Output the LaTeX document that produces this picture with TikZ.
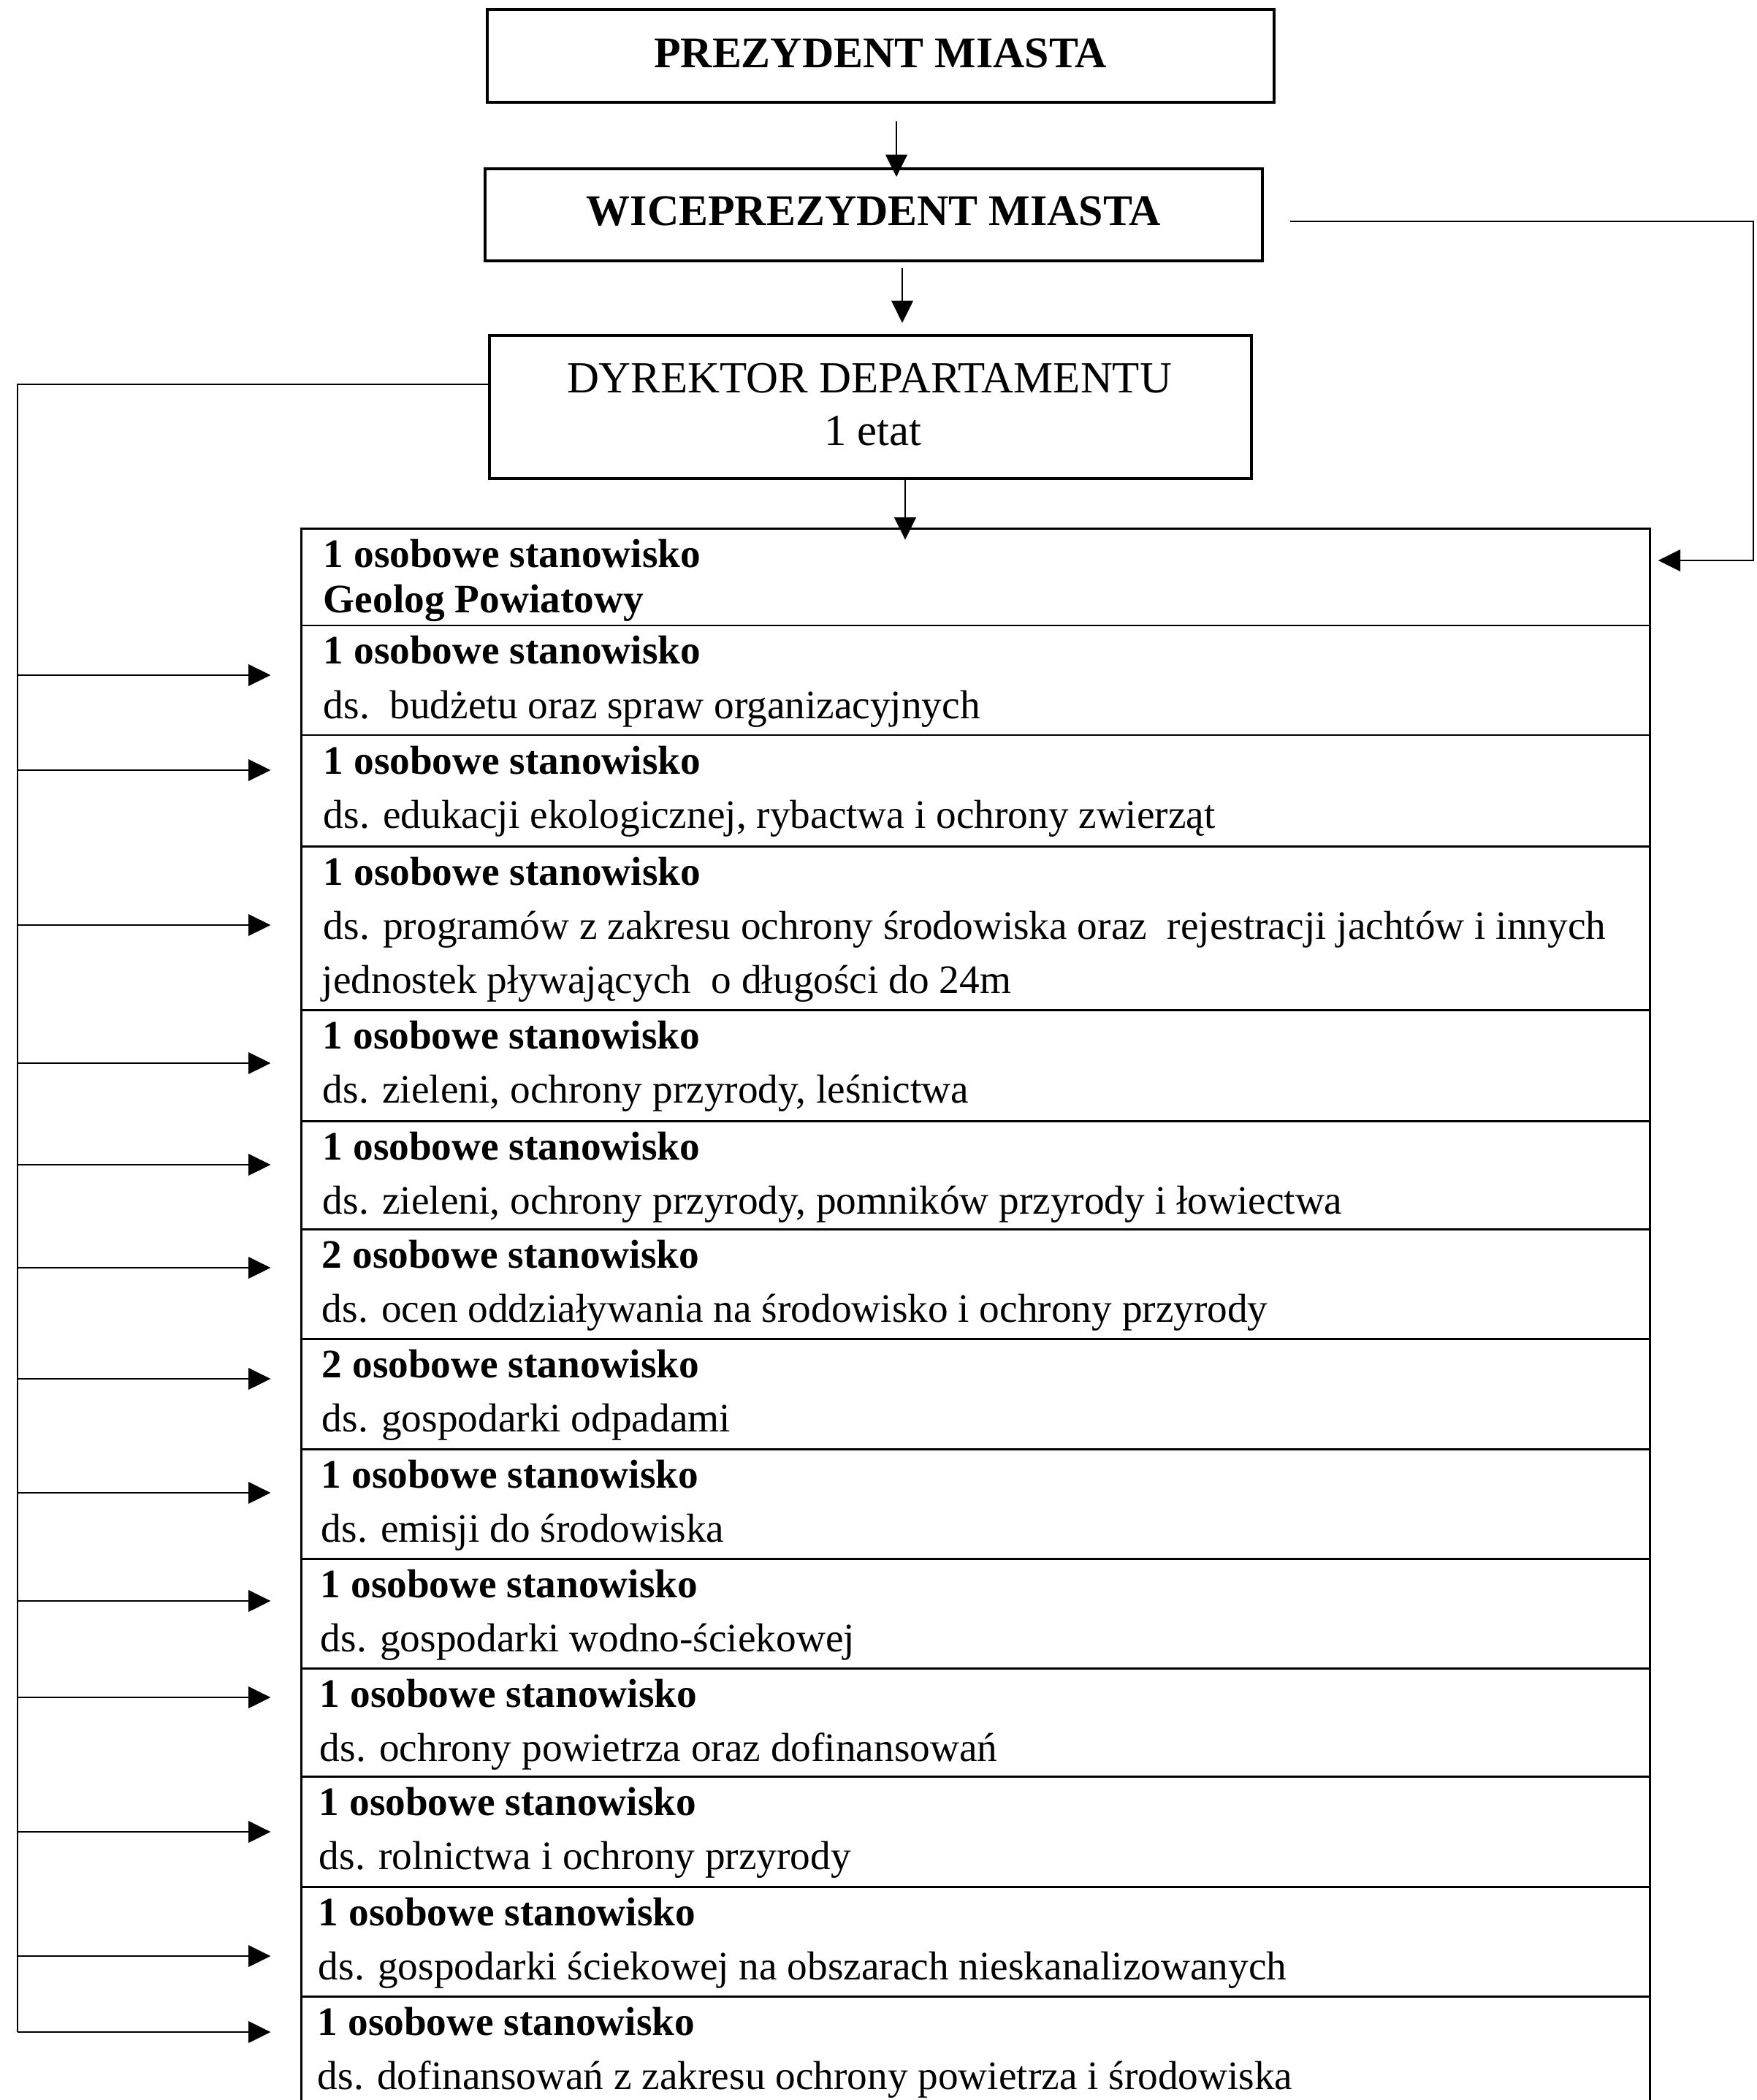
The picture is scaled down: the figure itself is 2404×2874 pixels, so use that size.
\documentclass[tikz,border=0pt]{standalone}
\usepackage{fontspec}
\setmainfont{Liberation Serif}
\usetikzlibrary{arrows.meta,fit}
\begin{document}
\begin{tikzpicture}[x=0.217pt,y=-0.217pt,
  box/.style={draw, line width=0.8pt, inner sep=0pt, rectangle},
  rowbox/.style={draw, line width=0.65pt, inner sep=0pt, rectangle},
  htext/.style={font=\fontsize{13}{15}\selectfont\bfseries, inner sep=0pt, anchor=base},
  dtext/.style={font=\fontsize{13.2}{15}\selectfont, inner sep=0pt, anchor=base},
  bt/.style={font=\fontsize{12}{14}\selectfont\bfseries, anchor=base west, inner sep=0pt},
  rt/.style={font=\fontsize{12}{14}\selectfont, anchor=base west, inner sep=0pt},
  ln/.style={line width=0.55pt},
  arr/.style={ln, -{Triangle[length=6.6pt,width=6.4pt]}}]
\useasboundingbox (0,0) rectangle (2404,2874);
\clip (0,0) rectangle (2404,2874);

% header boxes
\node[box, fit={(667,13) (1744,140)}] (prez) {};
\node[htext] (prezT) at (1205,93) {PREZYDENT MIASTA};
\node[box, fit={(664,231) (1728,357)}] (wice) {};
\node[htext] (wiceT) at (1196,309) {WICEPREZYDENT MIASTA};
\node[box, fit={(670,459) (1713,655)}] (dyr) {};
\node[dtext] (dyrT1) at (1190,538) {DYREKTOR DEPARTAMENTU};
\node[dtext] (dyrT2) at (1195,610) {1 etat};

% table rows
\node[rowbox, fit={(412,724) (2258,856)}] (r1) {};
\node[rowbox, fit={(412,856) (2258,1006)}] (r2) {};
\node[rowbox, fit={(412,1006) (2258,1158)}] (r3) {};
\node[rowbox, fit={(412,1158) (2258,1382)}] (r4) {};
\node[rowbox, fit={(412,1382) (2258,1534)}] (r5) {};
\node[rowbox, fit={(412,1534) (2258,1682)}] (r6) {};
\node[rowbox, fit={(412,1682) (2258,1832)}] (r7) {};
\node[rowbox, fit={(412,1832) (2258,1983)}] (r8) {};
\node[rowbox, fit={(412,1983) (2258,2133)}] (r9) {};
\node[rowbox, fit={(412,2133) (2258,2283)}] (r10) {};
\node[rowbox, fit={(412,2283) (2258,2431)}] (r11) {};
\node[rowbox, fit={(412,2431) (2258,2582)}] (r12) {};
\node[rowbox, fit={(412,2582) (2258,2732)}] (r13) {};
\node[rowbox, fit={(412,2732) (2258,2930)}] (r14) {};

% row texts
\node[bt] (r1a) at (442,777) {1 osobowe stanowisko};
\node[bt] (r1b) at (442,839) {Geolog Powiatowy};
\node[bt] (r2a) at (442,909) {1 osobowe stanowisko};
\node[rt] (r2b) at (442,983) {ds.\ \ budżetu oraz spraw organizacyjnych};
\node[bt] (r3a) at (442,1059) {1 osobowe stanowisko};
\node[rt] (r3b) at (442,1133) {ds. edukacji ekologicznej, rybactwa i ochrony zwierząt};
\node[bt] (r4a) at (442,1211) {1 osobowe stanowisko};
\node[rt] (r4b) at (442,1285) {ds. programów z zakresu ochrony środowiska oraz\ \ rejestracji jachtów i innych};
\node[rt] (r4c) at (440,1359) {jednostek pływających\ \ o długości do 24m};
\node[bt] (r5a) at (441,1435) {1 osobowe stanowisko};
\node[rt] (r5b) at (441,1509) {ds. zieleni, ochrony przyrody, leśnictwa};
\node[bt] (r6a) at (441,1587) {1 osobowe stanowisko};
\node[rt] (r6b) at (441,1661) {ds. zieleni, ochrony przyrody, pomników przyrody i łowiectwa};
\node[bt] (r7a) at (440,1735) {2 osobowe stanowisko};
\node[rt] (r7b) at (440,1809) {ds. ocen oddziaływania na środowisko i ochrony przyrody};
\node[bt] (r8a) at (440,1885) {2 osobowe stanowisko};
\node[rt] (r8b) at (440,1959) {ds. gospodarki odpadami};
\node[bt] (r9a) at (439,2036) {1 osobowe stanowisko};
\node[rt] (r9b) at (439,2110) {ds. emisji do środowiska};
\node[bt] (r10a) at (438,2186) {1 osobowe stanowisko};
\node[rt] (r10b) at (438,2260) {ds. gospodarki wodno-ściekowej};
\node[bt] (r11a) at (437,2336) {1 osobowe stanowisko};
\node[rt] (r11b) at (437,2410) {ds. ochrony powietrza oraz dofinansowań};
\node[bt] (r12a) at (436,2484) {1 osobowe stanowisko};
\node[rt] (r12b) at (436,2558) {ds. rolnictwa i ochrony przyrody};
\node[bt] (r13a) at (435,2635) {1 osobowe stanowisko};
\node[rt] (r13b) at (435,2709) {ds. gospodarki ściekowej na obszarach nieskanalizowanych};
\node[bt] (r14a) at (434,2785) {1 osobowe stanowisko};
\node[rt] (r14b) at (434,2859) {ds. dofinansowań z zakresu ochrony powietrza i środowiska};

% vertical arrows
\coordinate (x1) at (1227,0);
\coordinate (x2) at (1235,0);
\coordinate (x3) at (1239,0);
\draw[arr, shorten <=5.2pt, shorten >=-2.8pt] (prez.south -| x1) -- (wice.north -| x1);
\draw[arr, shorten <=1.7pt, shorten >=3.3pt] (wice.south -| x2) -- (dyr.north -| x2);
\draw[arr, shorten >=-3.5pt] (dyr.south -| x3) -- (r1.north -| x3);

% right connector
\coordinate (R1) at (2400,767);
\draw[arr, shorten >=2.2pt] ([xshift=7.8pt,yshift=-2pt]wice.east) -| (R1) -- (R1 -| r1.east);

% left trunk
\coordinate (Lend) at (24,2781);
\draw[ln] ([yshift=6.7pt]dyr.west) -| (Lend);
\foreach \r/\y in {2/924,3/1054,4/1266,5/1455,6/1594,7/1735,8/1887,9/2043,10/2191,11/2323,12/2507,13/2677,14/2781}{
  \coordinate (L\r) at (24,\y);
  \draw[arr, shorten >=8.7pt] (L\r) -- (L\r -| r\r.west);
}
\end{tikzpicture}
\end{document}
